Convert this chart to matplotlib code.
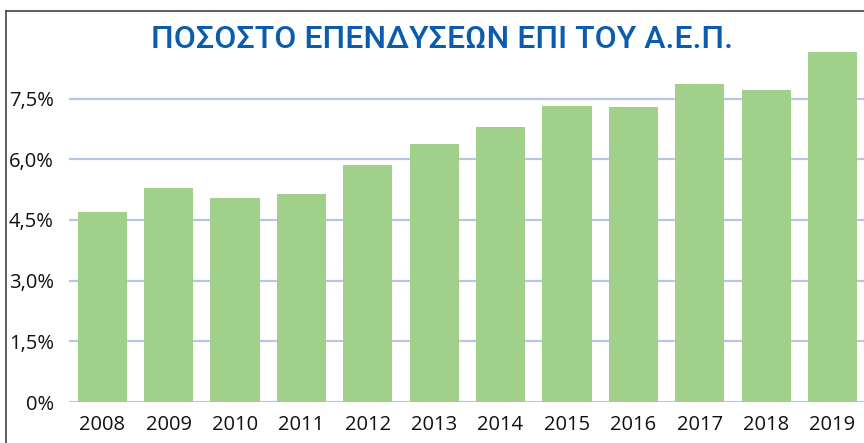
import matplotlib
matplotlib.use("Agg")
import matplotlib.pyplot as plt
from matplotlib.lines import Line2D
from matplotlib.ticker import FuncFormatter

years = ["2008", "2009", "2010", "2011", "2012", "2013",
         "2014", "2015", "2016", "2017", "2018", "2019"]
share = [4.69, 5.29, 5.04, 5.14, 5.86, 6.37, 6.80, 7.31, 7.29, 7.86, 7.71, 8.65]
yticks = [0, 1.5, 3.0, 4.5, 6.0, 7.5]
title = "ΠΟΣΟΣΤΟ ΕΠΕΝΔΥΣΕΩΝ ΕΠΙ ΤΟΥ Α.Ε.Π."

plt.rcParams["font.family"] = ["Open Sans", "DejaVu Sans"]

fig = plt.figure(figsize=(8.64, 4.43), dpi=100)
ax = fig.add_axes([69 / 864, 41 / 443, 1.002 - 69 / 864, 364.2 / 443])

ax.bar(range(len(years)), share, width=0.74, color="#a0d08a", zorder=3)
ax.set_xlim(-0.5, 11.5)
ax.set_ylim(0, 9)
ax.set_yticks(yticks)


def pct(v, _):
    if v == 0:
        return "0%"
    return f"{v:.1f}%".replace(".", ",")


ax.yaxis.set_major_formatter(FuncFormatter(pct))
ax.set_xticks(range(len(years)))
ax.set_xticklabels(years)
ax.tick_params(axis="both", length=0, labelsize=14.5, colors="#111111")
ax.tick_params(axis="y", pad=11)
ax.tick_params(axis="x", pad=9)
ax.grid(axis="y", color="#b4c7e7", linewidth=1.6, zorder=0)
for s in ax.spines.values():
    s.set_visible(False)

fig.text(442 / 864, 1 - 40 / 443, title, ha="center", va="center",
         fontsize=23, color="#0b5cad", fontweight="medium",
         family=["Roboto", "DejaVu Sans"])

# outer frame, only the top and left edges show
fig.add_artist(Line2D([6 / 864, 1], [1 - 11 / 443, 1 - 11 / 443],
                      transform=fig.transFigure, color="#444444", lw=1.2))
fig.add_artist(Line2D([6 / 864, 6 / 864], [0, 1 - 11 / 443],
                      transform=fig.transFigure, color="#444444", lw=1.2))

fig.savefig("out.png", dpi=100)
